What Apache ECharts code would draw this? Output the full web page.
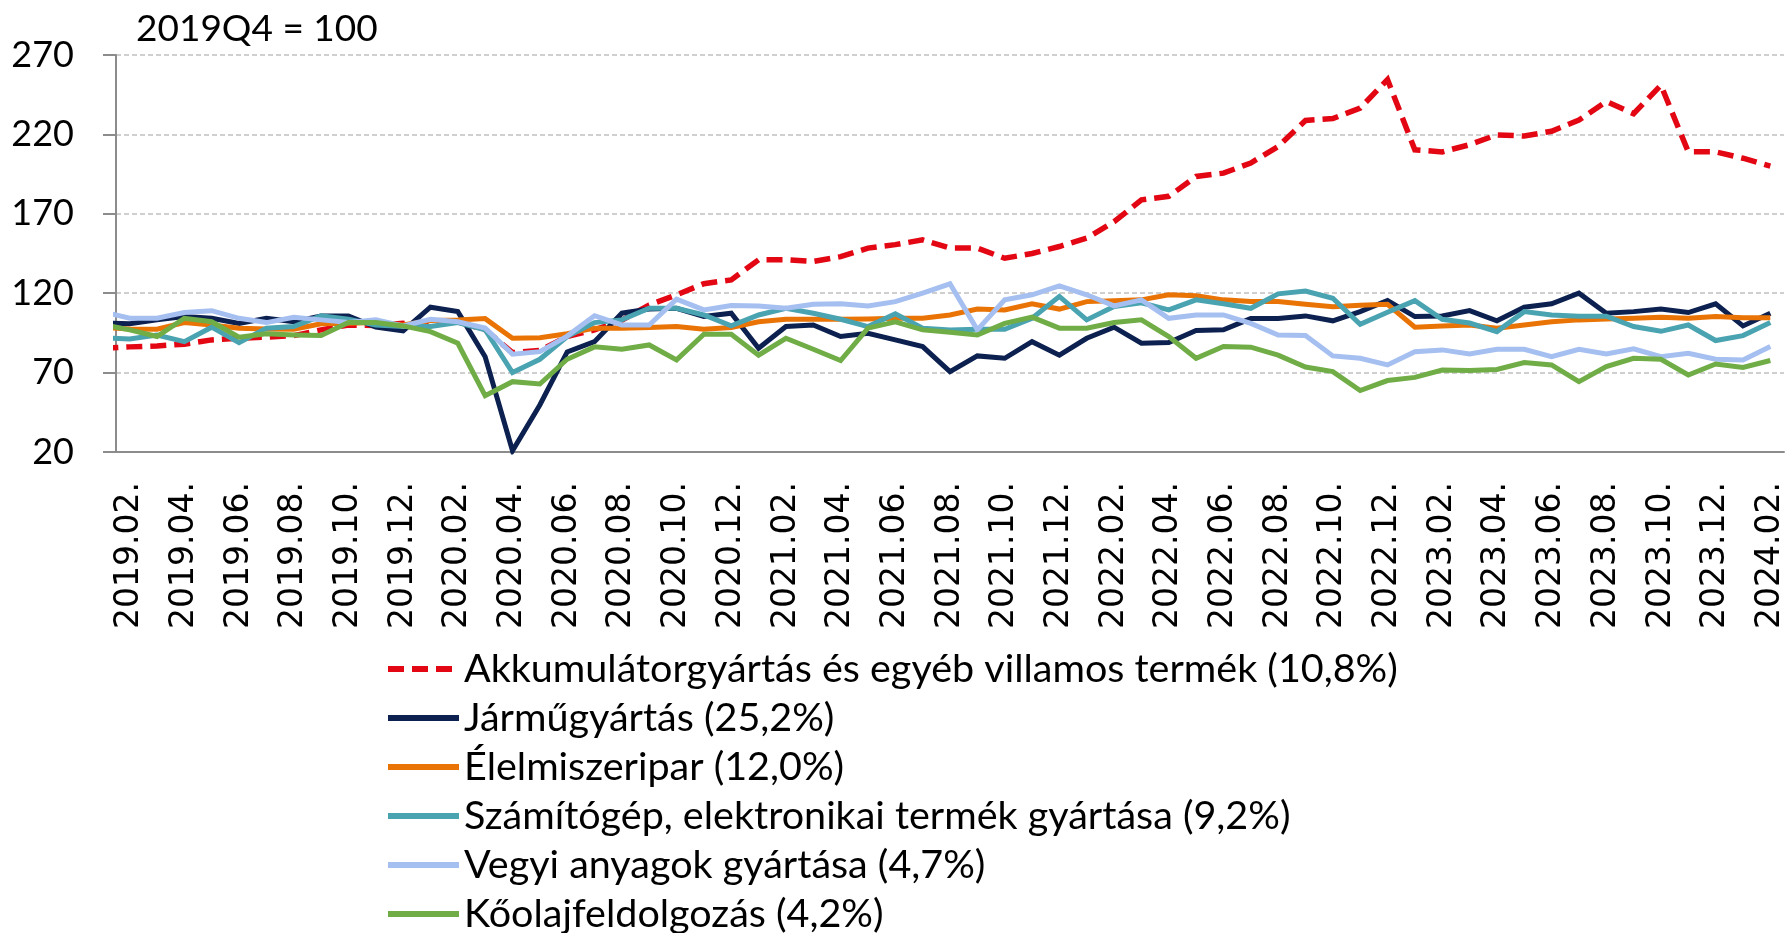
<!DOCTYPE html>
<html>
<head>
<meta charset="utf-8">
<script src="https://cdn.jsdelivr.net/npm/echarts@6/dist/echarts.min.js"></script>
<style>
  html, body { margin: 0; padding: 0; background: #fff; }
  #chart { width: 1788px; height: 933px; }
</style>
</head>
<body>
<div id="chart"></div>
<script>
// havi kategóriák; 2019.01 csak a bal szélen levágott szakaszhoz kell
const months = [
  "2019.01.", "2019.02.", "2019.03.", "2019.04.", "2019.05.", "2019.06.", "2019.07.", "2019.08.", "2019.09.", "2019.10.", "2019.11.", "2019.12.",
  "2020.01.", "2020.02.", "2020.03.", "2020.04.", "2020.05.", "2020.06.", "2020.07.", "2020.08.", "2020.09.", "2020.10.", "2020.11.", "2020.12.",
  "2021.01.", "2021.02.", "2021.03.", "2021.04.", "2021.05.", "2021.06.", "2021.07.", "2021.08.", "2021.09.", "2021.10.", "2021.11.", "2021.12.",
  "2022.01.", "2022.02.", "2022.03.", "2022.04.", "2022.05.", "2022.06.", "2022.07.", "2022.08.", "2022.09.", "2022.10.", "2022.11.", "2022.12.",
  "2023.01.", "2023.02.", "2023.03.", "2023.04.", "2023.05.", "2023.06.", "2023.07.", "2023.08.", "2023.09.", "2023.10.", "2023.11.", "2023.12.",
  "2024.01.", "2024.02."
];

const akku = [
  85.4, 86.2, 86.8, 87.9, 90.6, 91.6, 92.3, 93.3, 96.9, 100, 99.6, 101, 100.7,
  102, 97, 82.6, 84, 92.7, 96.9, 103, 112.6, 119, 126, 128.4, 141,
  141, 140, 143, 148.4, 150.6, 153.6, 148.4, 148.4, 142, 145, 149.4, 154.7,
  165, 178.8, 181, 193.5, 195.6, 202, 212.4, 228.8, 230, 236.6, 254.5, 210.3,
  209, 213.5, 219.7, 219, 222, 229, 240.7, 233, 251, 209, 209, 205, 200
];
const jarmu = [
  101.3, 100.7, 103.2, 105.3, 104.2, 101, 104.2, 102, 105.7, 105.7, 98.6, 96.3, 111.2,
  108.4, 80, 20.8, 49.6, 83, 89.5, 107.4, 110, 110.5, 105.3, 107.4, 85.3,
  99, 100, 92.7, 94.8, 90.6, 86.4, 70.6, 80.5, 79, 89.5, 81, 91.6,
  98.6, 88.5, 89, 96.5, 97, 104, 104, 105.7, 102.6, 108.4, 115.4, 105.3,
  105.7, 109, 102.6, 111.2, 113.3, 120, 107.4, 108.4, 110, 107.8, 113.3, 99.4, 107.4
];
const elelmiszer = [
  98.5, 97.5, 97.3, 101.5, 100, 98, 97.5, 97.3, 100.7, 101, 101.5, 100, 102.8,
  103.2, 104, 91.6, 92, 94.5, 98, 98, 98.4, 99, 97.3, 98.4, 102,
  103.6, 103.6, 103.6, 103.8, 104.2, 104.2, 106.3, 110, 109.5, 113.3, 110, 114.7,
  115.2, 115.8, 119, 118.4, 115.8, 114.7, 114.7, 113, 111.5, 112.4, 113, 98.6,
  99.4, 100, 98, 100, 102, 103.2, 103.8, 104.2, 104.9, 104.2, 105.3, 104.6, 104.6
];
const szamitogep = [
  92, 91.2, 93.7, 89.5, 98.6, 88.9, 98, 99, 105.7, 103.6, 100, 99, 99,
  101.5, 97, 70, 78.4, 92.7, 101.5, 103.2, 110.5, 110.5, 106.3, 99.4, 106.3,
  110.5, 107.4, 103.6, 99, 107, 98, 96.9, 97.3, 97.3, 104.2, 118, 103.2,
  111.6, 114, 109.5, 115.8, 113.3, 110.5, 119.6, 121.3, 116.8, 100.4, 108, 115.3,
  103.6, 101.2, 95.8, 108.4, 106.3, 105.5, 105.5, 99, 96, 100, 90.2, 93.3, 101.5
];
const vegyi = [
  108.4, 104.2, 104.2, 107.8, 109, 104.2, 101.5, 104.9, 103.2, 101.5, 103.2, 99.4, 103.6,
  102, 98, 81.6, 83.2, 93, 105.8, 100, 100, 116.2, 109.5, 112.2, 112,
  110.5, 113, 113.3, 112, 114.7, 120, 125.9, 96.9, 115.8, 119, 124.6, 119,
  112, 115.8, 104.2, 106.3, 106.3, 101, 93.7, 93.4, 80.5, 79, 74.8, 83.2,
  84.3, 81.7, 84.7, 84.7, 80, 84.7, 81.7, 85, 80, 82.2, 78.4, 78, 86.4
];
const koolaj = [
  100.3, 96.9, 92.7, 104.2, 102, 92.3, 94.4, 93.7, 93.3, 101.5, 101.5, 99.4, 95.8,
  88.5, 55.5, 64.3, 62.8, 78.4, 86.2, 84.7, 87.4, 78, 94.2, 94.2, 81,
  91.6, 84.7, 77.6, 98, 102, 96.9, 95.4, 93.7, 101, 104.9, 98, 98,
  101.5, 103.2, 92.7, 79, 86.4, 86, 81, 73.5, 70.6, 58.7, 65, 67,
  71.6, 71.3, 72, 76.3, 74.8, 64.3, 73.8, 79, 78.4, 68.5, 75.4, 73.2, 77.6
];

const yTicks = { min: 20, max: 270, step: 50 };

const seriesDefs = [
  { name: "Akkumulátorgyártás és egyéb villamos termék (10,8%)", data: akku, color: "#e30613", width: 5.5, dash: [16, 8] },
  { name: "Járműgyártás (25,2%)", data: jarmu, color: "#0c2150", width: 5 },
  { name: "Élelmiszeripar (12,0%)", data: elelmiszer, color: "#e97305", width: 5 },
  { name: "Számítógép, elektronikai termék gyártása (9,2%)", data: szamitogep, color: "#4aa3b0", width: 5 },
  { name: "Vegyi anyagok gyártása (4,7%)", data: vegyi, color: "#a5bff0", width: 5 },
  { name: "Kőolajfeldolgozás (4,2%)", data: koolaj, color: "#70ad47", width: 5 },
];

const chart = echarts.init(document.getElementById("chart"), null, { renderer: "canvas" });
const everyOther = (idx) => idx % 2 === 1;

chart.setOption({
  animation: false,
  backgroundColor: "#fff",
  textStyle: { fontFamily: "Lato" },
  title: {
    text: "2019Q4 = 100",
    left: 131,
    top: 6,
    textStyle: { fontFamily: "Lato", fontSize: 37, fontWeight: "normal", color: "#000" },
  },
  grid: { left: 116, right: 4, top: 55, bottom: 481, containLabel: false },
  legend: {
    orient: "vertical",
    left: 385,
    top: 649,
    height: 400,
    padding: 0,
    itemWidth: 71,
    itemHeight: 20,
    itemGap: 9,
    itemStyle: { opacity: 0 },
    lineStyle: { width: 6 },
    textStyle: { fontFamily: "Lato", fontSize: 39.5, color: "#000", lineHeight: 40, padding: [0, 0, 0, 0] },
    data: seriesDefs.map((s) => s.name),
  },
  xAxis: {
    type: "category",
    data: months,
    min: 1,
    boundaryGap: true,
    axisLine: { lineStyle: { color: "#8c8c8c", width: 2 } },
    axisTick: { interval: everyOther, length: 13, lineStyle: { color: "#8c8c8c", width: 2 } },
    axisLabel: {
      interval: everyOther,
      rotate: 90,
      margin: 30,
      fontFamily: "DejaVu Sans",
      fontSize: 33,
      color: "#000",
    },
    splitLine: { show: false },
  },
  yAxis: {
    type: "value",
    min: yTicks.min,
    max: yTicks.max,
    interval: yTicks.step,
    axisLine: { show: true, lineStyle: { color: "#8c8c8c", width: 2 } },
    axisTick: { show: true, length: 13, lineStyle: { color: "#8c8c8c", width: 2 } },
    axisLabel: { margin: 42, fontFamily: "Lato", fontSize: 36, color: "#000" },
    splitLine: { lineStyle: { color: "#c0c0c0", width: 1.5, type: [5, 3] } },
  },
  series: seriesDefs.map((s) => ({
    name: s.name,
    type: "line",
    data: s.data,
    symbol: "none",
    clip: true,
    color: s.color,
    lineStyle: { color: s.color, width: s.width, type: s.dash || "solid", cap: "butt", join: "miter" },
    emphasis: { disabled: true },
  })),
});

window.addEventListener("resize", () => chart.resize());
</script>
</body>
</html>
